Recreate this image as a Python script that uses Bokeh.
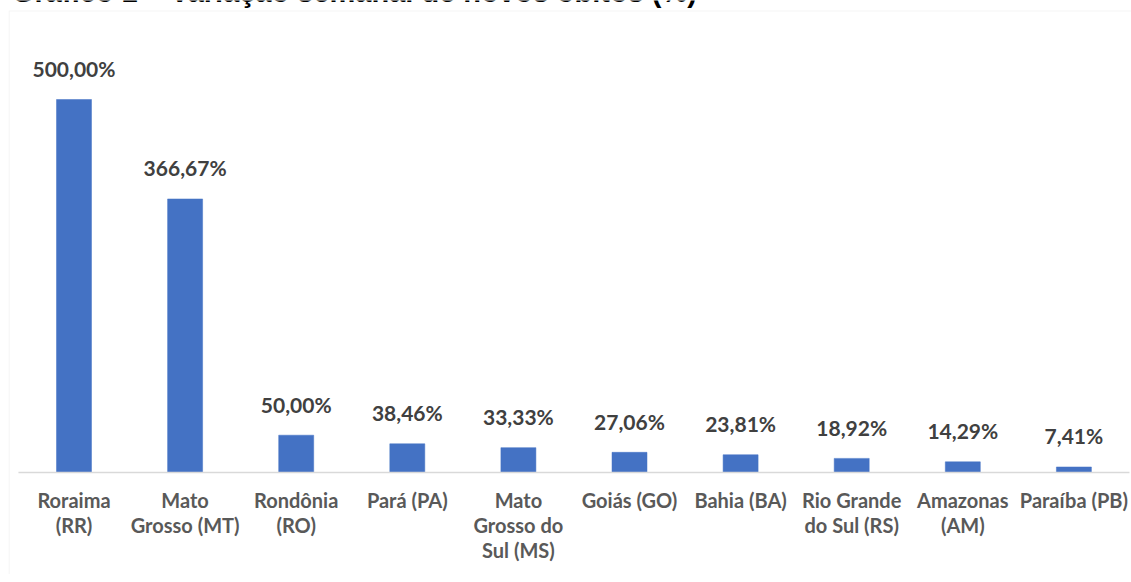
from bokeh.plotting import figure
from bokeh.models import Range1d, BoxAnnotation, ColumnDataSource
from bokeh.core.properties import value
from bokeh.embed import file_html
from bokeh.resources import INLINE

# ---- data -------------------------------------------------------------
title_text = "Gráfico 1 – Variação semanal de novos óbitos (%)"
states = ["Roraima (RR)", "Mato Grosso (MT)", "Rondônia (RO)", "Pará (PA)",
          "Mato Grosso do Sul (MS)", "Goiás (GO)", "Bahia (BA)",
          "Rio Grande do Sul (RS)", "Amazonas (AM)", "Paraíba (PB)"]
tick_labels = ["Roraima\n(RR)", "Mato\nGrosso (MT)", "Rondônia\n(RO)", "Pará (PA)",
               "Mato\nGrosso do\nSul (MS)", "Goiás (GO)", "Bahia (BA)",
               "Rio Grande\ndo Sul (RS)", "Amazonas\n(AM)", "Paraíba (PB)"]
variation = [500.00, 366.67, 50.00, 38.46, 33.33, 27.06, 23.81, 18.92, 14.29, 7.41]

# ---- layout -----------------------------------------------------------
W, H = 1123, 574
PX_PER_CAT = 111.1
FIRST_CENTER = 65.5
BASE_Y = 472
PX_PER_UNIT = 0.746

x_start = -FIRST_CENTER / PX_PER_CAT
x_end = x_start + W / PX_PER_CAT
y_end = BASE_Y / PX_PER_UNIT
y_start = -(H - BASE_Y) / PX_PER_UNIT

n = len(states)
src = ColumnDataSource(dict(
    x=list(range(n)),
    v=variation,
    lbl=[f"{v:.2f}".replace(".", ",") + "%" for v in variation],
    tick=tick_labels,
    zero=[0] * n,
))

p = figure(width=W, height=H,
           x_range=Range1d(x_start, x_end), y_range=Range1d(y_start, y_end),
           output_backend="svg", toolbar_location=None,
           x_axis_location=None, y_axis_location=None,
           min_border=0, margin=(0, 0, 0, 8))
p.grid.visible = False
p.outline_line_color = None
p.background_fill_color = "white"
p.border_fill_color = "white"

# chart area border (left & top visible; right/bottom run off-page)
p.add_layout(BoxAnnotation(
    left=x_start + 0.5 / PX_PER_CAT, right=x_end + 5,
    top=y_end - 10.5 / PX_PER_UNIT, bottom=y_start - 50,
    fill_alpha=0, line_color="#d9d9d9", line_width=1.2))

# title (partly above the page edge, as in the source)
p.text(x=[x_start], y=[y_end], text=[title_text], x_offset=3.5, y_offset=-9,
       text_align="left", text_baseline="alphabetic",
       text_font=value("Liberation Sans"), text_font_style="bold",
       text_font_size="29px", text_color="black")

p.vbar(x="x", top="v", bottom=0, width=0.315, source=src,
       fill_color="#4472C4", line_color="#4472C4", line_width=0.5)

p.segment(x0=[-0.5], y0=[0], x1=[n - 0.5], y1=[0],
          line_color="#d9d9d9", line_width=1.4)

p.text(x="x", y="v", text="lbl", source=src, y_offset=-31,
       text_align="center", text_baseline="alphabetic",
       text_font=value("Lato"), text_font_style="bold",
       text_font_size="21px", text_color="#404040")

p.text(x="x", y="zero", text="tick", source=src, y_offset=15,
       text_align="center", text_baseline="top", text_line_height=1.06,
       text_font=value("Lato"), text_font_style="bold",
       text_font_size="20px", text_color="#595959")

open("out.html", "w").write(file_html(p, INLINE))
